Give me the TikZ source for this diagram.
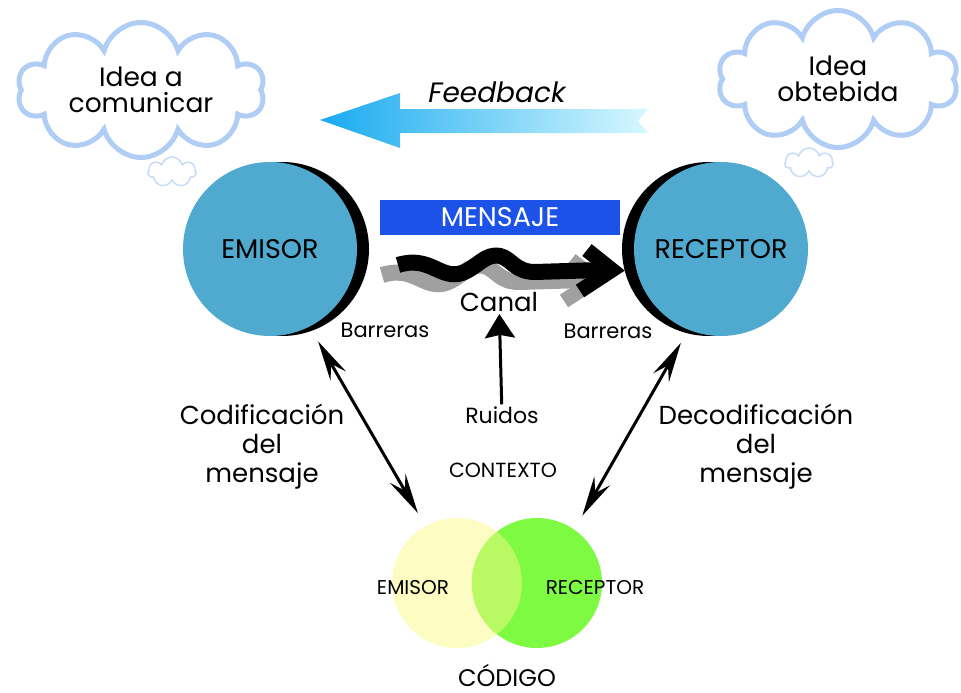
\documentclass[tikz,border=0pt]{standalone}
\usepackage{fontspec}
\setmainfont{Poppins}
\usetikzlibrary{shapes.symbols,arrows.meta,positioning}

\definecolor{nubeazul}{RGB}{175,205,245}
\definecolor{circazul}{RGB}{80,170,208}
\definecolor{mensazul}{RGB}{28,82,232}
\definecolor{fbizq}{RGB}{25,170,240}
\definecolor{fbmed}{RGB}{90,205,245}
\definecolor{fbder}{RGB}{215,248,255}
\definecolor{codamar}{RGB}{252,252,195}
\definecolor{codverde}{RGB}{125,250,65}
\definecolor{codmezcla}{RGB}{185,250,100}
\definecolor{sombra}{RGB}{160,160,160}

\newcommand{\fs}[1]{\fontsize{#1}{#1}\selectfont}

\tikzset{
  nube/.style={cloud, cloud puffs=10, cloud ignores aspect, draw=nubeazul,
    line width=5pt, fill=white, align=center, inner sep=0pt, font=\fs{26.5}},
  nubecita/.style={cloud, cloud puffs=7, cloud ignores aspect, draw=nubeazul!70,
    line width=1.5pt, minimum width=48pt, minimum height=30pt},
  persona/.style={circle, fill=circazul, minimum size=174pt, inner sep=0pt, font=\fs{27}},
  codigo/.style={circle, minimum size=130pt, inner sep=0pt},
  etiq/.style={font=\fs{26}, align=center, inner sep=2pt},
  chica/.style={font=\fs{21}, inner sep=2pt},
  flechados/.style={line width=3pt,
    {Stealth[length=40pt,width=18pt,inset=14pt]}-{Stealth[length=40pt,width=18pt,inset=14pt]}},
}

\begin{document}
\begin{tikzpicture}[x=1pt,y=-1pt]
\useasboundingbox (0,0) rectangle (961,693);

% nubes
\node[nube, minimum width=247pt, minimum height=135pt] (ideaA) at (141,90)
  {Idea a\\[-1pt]comunicar};
\node[nubecita] (puffA) at (172,172) {};
\node[nube, minimum width=240pt, minimum height=137pt] (ideaB) at (838,79)
  {Idea\\[-1pt]obtebida};
\node[nubecita] (puffB) at (809,163) {};

% feedback
\shade[left color=fbizq, middle color=fbmed, right color=fbder]
  (320,120) -- (400,93) -- (400,109) -- (648,109) -- (638,121)
  -- (648,133) -- (400,133) -- (400,148) -- cycle;
\node[font=\fs{28}\itshape] (feedback) at (497,92) {Feedback};

% emisor y receptor
\fill[black] (282,249) circle (87pt);
\node[persona] (emisor) at (270,249) {EMISOR};
\fill[black] (709,249) circle (87pt);
\node[persona] (receptor) at (721,249) {RECEPTOR};

\node[fill=mensazul, text=white, font=\fs{27}, minimum width=240pt,
  minimum height=35pt, inner sep=0pt] (mensaje) at (500,217) {MENSAJE};

% canal
\foreach \dx/\dy/\col in {-16/10/sombra, 0/0/black}{
  \begin{scope}[shift={(\dx,\dy)}]
    \draw[\col, line width=16pt]
      (398,265) .. controls (430,255) and (440,280) .. (462,273)
      .. controls (478,267) and (485,253) .. (500,256)
      .. controls (512,259) and (515,272) .. (535,272) -- (600,270);
    \draw[\col, line width=15pt, line join=miter]
      (587,250) -- (612,270) -- (580,291);
  \end{scope}
}
\node[etiq, font=\fs{26}] (canal) at (499,302) {Canal};
\node[chica] (barrE) at (385,330) {Barreras};
\node[chica] (barrR) at (608,331) {Barreras};
\node[chica, font=\fs{22}] (ruidos) at (502,415) {Ruidos};
\draw[line width=3pt, -{Stealth[length=24pt,width=30pt,inset=3pt]}]
  (ruidos) -- (canal);
\node[font=\fs{20.5}] (contexto) at (503,470) {CONTEXTO};

% codigo
\node[codigo, fill=codamar] (venE) at (457,583) {};
\node[codigo, fill=codverde] (venR) at (537,583) {};
\begin{scope}
  \clip (457,583) circle (65pt);
  \fill[codmezcla] (537,583) circle (65pt);
\end{scope}
\node[font=\fs{20}] (txtE) at (413,588) {EMISOR};
\node[font=\fs{20}] (txtR) at (595,588) {RECEPTOR};
\node[font=\fs{24}, anchor=base, inner sep=0pt] (codigo) at (507,686) {CÓDIGO};

% codificacion
\draw[flechados, shorten <=17pt, shorten >=15pt] (emisor.297) -- (venE.119);
\draw[flechados, shorten <=15pt, shorten >=16pt] (receptor.248) -- (venR.55);
\node[etiq] (codif) at (262,447) {Codificación\\[3pt]del\\[3pt]mensaje};
\node[etiq] (decodif) at (756,447) {Decodificación\\[3pt]del\\[3pt]mensaje};
\end{tikzpicture}
\end{document}
